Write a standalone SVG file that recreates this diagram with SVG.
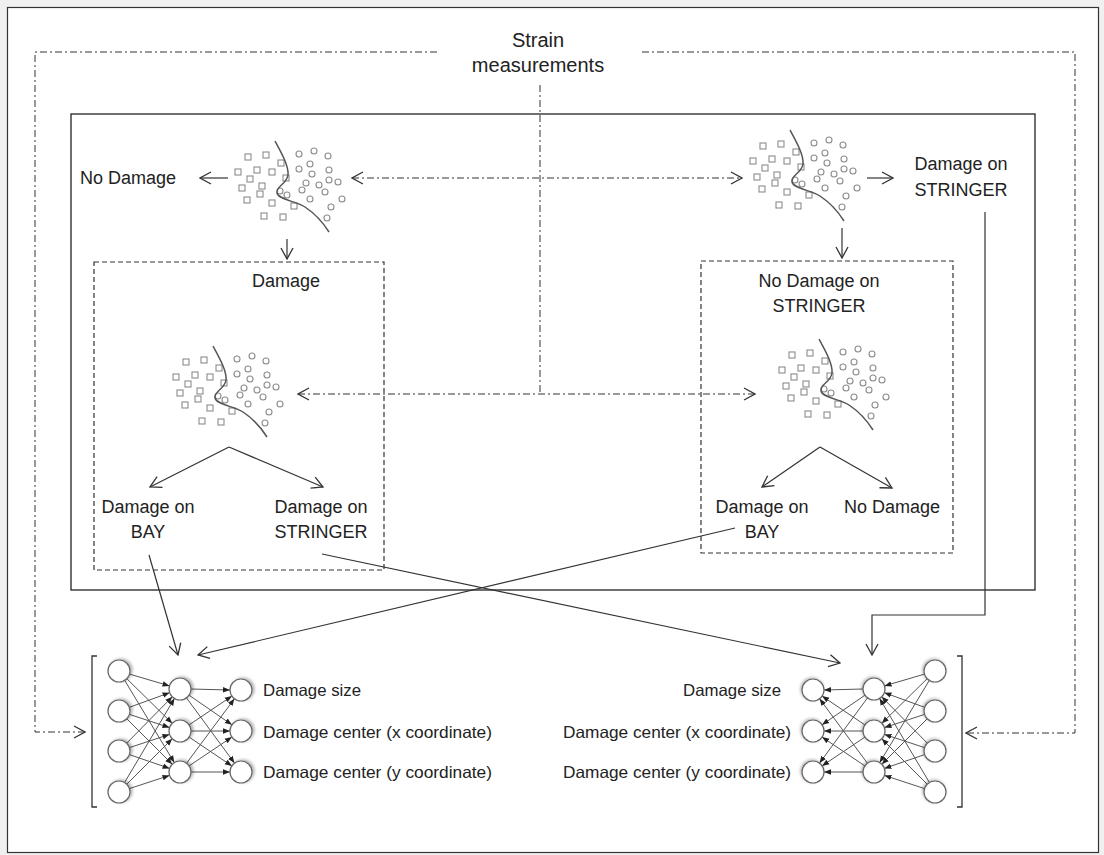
<svg xmlns="http://www.w3.org/2000/svg" xmlns:xlink="http://www.w3.org/1999/xlink" width="1104" height="855" viewBox="0 0 1104 855">
<style>
  text { font-family: "Liberation Sans", Arial, sans-serif; fill: #222; }
  .lbl { font-size: 18px; }
  .small { font-size: 16.5px; }
  .title { font-size: 20px; }
  .conn { stroke: #333; stroke-width: 1.2; fill: none; }
  .dashdot { stroke: #333; stroke-width: 1; fill: none; stroke-dasharray: 7 3 2 3; }
  .dashed { stroke: #333; stroke-width: 1.2; fill: none; stroke-dasharray: 5 3; }
  .sq { fill: none; stroke: #8c8c8c; stroke-width: 1.1; }
  .ci { fill: none; stroke: #8c8c8c; stroke-width: 1.1; }
  .curve { fill: none; stroke: #555; stroke-width: 1.5; }
  .nline { stroke: #555; stroke-width: 1; fill: none; }
  .node { fill: #fff; stroke: #666; stroke-width: 1.2; }
</style>
<defs>
  <marker id="open" markerUnits="userSpaceOnUse" markerWidth="14" markerHeight="14" viewBox="0 0 14 14" refX="13" refY="7" orient="auto">
    <path d="M2,1 L13,7 L2,13" fill="none" stroke="#333" stroke-width="1.3" stroke-dasharray="none"/>
  </marker>
  <marker id="openStart" markerUnits="userSpaceOnUse" markerWidth="14" markerHeight="14" viewBox="0 0 14 14" refX="1" refY="7" orient="auto">
    <path d="M12,1 L1,7 L12,13" fill="none" stroke="#333" stroke-width="1.3" stroke-dasharray="none"/>
  </marker>
  <marker id="small" markerUnits="userSpaceOnUse" markerWidth="8" markerHeight="8" viewBox="0 0 8 8" refX="7" refY="4" orient="auto">
    <path d="M0,1.2 L7,4 L0,6.8 Z" fill="#222"/>
  </marker>
  <filter id="shadow" x="-50%" y="-50%" width="200%" height="200%">
    <feGaussianBlur in="SourceAlpha" stdDeviation="1.5"/>
    <feOffset dx="1.5" dy="-1.5" result="b"/>
    <feComponentTransfer><feFuncA type="linear" slope="0.3"/></feComponentTransfer>
    <feMerge><feMergeNode/><feMergeNode in="SourceGraphic"/></feMerge>
  </filter>
  <g id="scatter">
    <rect class="sq" x="245" y="154" width="6" height="6"/>
    <rect class="sq" x="263" y="152" width="6" height="6"/>
    <rect class="sq" x="278" y="160" width="6" height="6"/>
    <rect class="sq" x="235" y="169" width="6" height="6"/>
    <rect class="sq" x="254" y="167" width="6" height="6"/>
    <rect class="sq" x="269" y="169" width="6" height="6"/>
    <rect class="sq" x="247" y="176" width="6" height="6"/>
    <rect class="sq" x="283" y="175" width="6" height="6"/>
    <rect class="sq" x="239" y="185" width="6" height="6"/>
    <rect class="sq" x="259" y="183" width="6" height="6"/>
    <rect class="sq" x="257" y="191" width="6" height="6"/>
    <rect class="sq" x="244" y="197" width="6" height="6"/>
    <rect class="sq" x="269" y="200" width="6" height="6"/>
    <rect class="sq" x="291" y="203" width="6" height="6"/>
    <rect class="sq" x="261" y="213" width="6" height="6"/>
    <rect class="sq" x="280" y="214" width="6" height="6"/>
    <circle class="ci" cx="299" cy="154" r="3"/>
    <circle class="ci" cx="314" cy="151" r="3"/>
    <circle class="ci" cx="328" cy="156" r="3"/>
    <circle class="ci" cx="310" cy="164" r="3"/>
    <circle class="ci" cx="299" cy="169" r="3"/>
    <circle class="ci" cx="312" cy="174" r="3"/>
    <circle class="ci" cx="329" cy="170" r="3"/>
    <circle class="ci" cx="329" cy="180" r="3"/>
    <circle class="ci" cx="338" cy="182" r="3"/>
    <circle class="ci" cx="306" cy="183" r="3"/>
    <circle class="ci" cx="319" cy="185" r="3"/>
    <circle class="ci" cx="302" cy="190" r="3"/>
    <circle class="ci" cx="325" cy="192" r="3"/>
    <circle class="ci" cx="280" cy="191" r="3"/>
    <circle class="ci" cx="287" cy="195" r="3"/>
    <circle class="ci" cx="310" cy="199" r="3"/>
    <circle class="ci" cx="342" cy="199" r="3"/>
    <circle class="ci" cx="331" cy="207" r="3"/>
    <circle class="ci" cx="327" cy="218" r="3"/>
    <path class="curve" d="M275,141 C281,152 289,166 288,175 C287,184 276,186 277,193 C279,200 296,201 305,207 C317,215 324,224 329,232"/>
  </g>
  <g id="net">
    <path d="M97,656 H92 V807 H97" fill="none" stroke="#333" stroke-width="1.3"/>
    <g marker-end="url(#small)">
      <line class="nline" x1="129.5" y1="674.1" x2="169.5" y2="685.9"/>
      <line class="nline" x1="126.8" y1="678.7" x2="172.2" y2="723.3"/>
      <line class="nline" x1="124.7" y1="680.4" x2="174.3" y2="762.6"/>
      <line class="nline" x1="129.4" y1="707.3" x2="169.6" y2="692.7"/>
      <line class="nline" x1="129.5" y1="714.4" x2="169.5" y2="727.6"/>
      <line class="nline" x1="126.8" y1="718.8" x2="172.2" y2="764.2"/>
      <line class="nline" x1="126.7" y1="743.2" x2="172.3" y2="696.8"/>
      <line class="nline" x1="129.5" y1="747.6" x2="169.5" y2="734.4"/>
      <line class="nline" x1="129.4" y1="754.6" x2="169.6" y2="768.4"/>
      <line class="nline" x1="124.6" y1="782.5" x2="174.4" y2="698.5"/>
      <line class="nline" x1="126.8" y1="784.2" x2="172.2" y2="738.8"/>
      <line class="nline" x1="129.5" y1="788.6" x2="169.5" y2="775.4"/>
      <line class="nline" x1="191" y1="689" x2="230" y2="690"/>
      <line class="nline" x1="189.1" y1="695.2" x2="231.9" y2="724.8"/>
      <line class="nline" x1="186.5" y1="697.9" x2="234.5" y2="763.1"/>
      <line class="nline" x1="189.1" y1="724.9" x2="231.9" y2="696.1"/>
      <line class="nline" x1="191" y1="731" x2="230" y2="731"/>
      <line class="nline" x1="189.1" y1="737.1" x2="231.9" y2="765.9"/>
      <line class="nline" x1="186.6" y1="763.2" x2="234.4" y2="698.8"/>
      <line class="nline" x1="189.1" y1="765.9" x2="231.9" y2="737.1"/>
      <line class="nline" x1="191" y1="772" x2="230" y2="772"/>
    </g>
    <g filter="url(#shadow)">
      <circle class="node" cx="119" cy="671" r="11"/>
      <circle class="node" cx="119" cy="711" r="11"/>
      <circle class="node" cx="119" cy="751" r="11"/>
      <circle class="node" cx="119" cy="792" r="11"/>
      <circle class="node" cx="180" cy="689" r="11"/>
      <circle class="node" cx="180" cy="731" r="11"/>
      <circle class="node" cx="180" cy="772" r="11"/>
      <circle class="node" cx="241" cy="690" r="11"/>
      <circle class="node" cx="241" cy="731" r="11"/>
      <circle class="node" cx="241" cy="772" r="11"/>
    </g>
  </g>
</defs>

<rect x="0" y="0" width="1104" height="855" fill="#f0f0f0"/>
<rect x="7.5" y="7.5" width="1091" height="845" fill="#ffffff" stroke="#333" stroke-width="1.2"/>

<g id="inner-frame">
  <rect x="71" y="114" width="964" height="476" fill="none" stroke="#222" stroke-width="1.3"/>
</g>

<g id="strain-measurements">
  <text class="title" x="538" y="47" text-anchor="middle">Strain</text>
  <text class="title" x="538" y="72" text-anchor="middle">measurements</text>
</g>

<g id="scatter-top-left"><use xlink:href="#scatter"/></g>
<g id="scatter-top-right"><use xlink:href="#scatter" transform="translate(515,-11)"/></g>
<g id="scatter-bottom-left"><use xlink:href="#scatter" transform="translate(-62,205)"/></g>
<g id="scatter-bottom-right"><use xlink:href="#scatter" transform="translate(544,198)"/></g>

<g id="label-no-damage-top"><text class="lbl" x="80" y="184">No Damage</text></g>
<g id="label-damage-on-stringer-top">
  <text class="lbl" x="961" y="170" text-anchor="middle">Damage on</text>
  <text class="lbl" x="961" y="196" text-anchor="middle">STRINGER</text>
</g>

<g id="box-damage">
  <rect class="dashed" x="94" y="262" width="290" height="308"/>
  <text class="lbl" x="286" y="287" text-anchor="middle">Damage</text>
</g>
<g id="box-no-damage-stringer">
  <rect class="dashed" x="701" y="261" width="252" height="292"/>
  <text class="lbl" x="819" y="287" text-anchor="middle">No Damage on</text>
  <text class="lbl" x="819" y="312" text-anchor="middle">STRINGER</text>
</g>

<g id="label-bay-left">
  <text class="lbl" x="148" y="513" text-anchor="middle">Damage on</text>
  <text class="lbl" x="148" y="538" text-anchor="middle">BAY</text>
</g>
<g id="label-stringer-left">
  <text class="lbl" x="321" y="513" text-anchor="middle">Damage on</text>
  <text class="lbl" x="321" y="538" text-anchor="middle">STRINGER</text>
</g>
<g id="label-bay-right">
  <text class="lbl" x="762" y="513" text-anchor="middle">Damage on</text>
  <text class="lbl" x="762" y="538" text-anchor="middle">BAY</text>
</g>
<g id="label-no-damage-right">
  <text class="lbl" x="892" y="513" text-anchor="middle">No Damage</text>
</g>

<g id="net-left">
  <use xlink:href="#net"/>
  <text class="small" x="263" y="696" textLength="98" lengthAdjust="spacingAndGlyphs">Damage size</text>
  <text class="small" x="263" y="738" textLength="229" lengthAdjust="spacingAndGlyphs">Damage center (x coordinate)</text>
  <text class="small" x="263" y="778" textLength="229" lengthAdjust="spacingAndGlyphs">Damage center (y coordinate)</text>
</g>
<g id="net-right">
  <use xlink:href="#net" transform="translate(1054,0) scale(-1,1)"/>
  <text class="small" x="683" y="696" textLength="98" lengthAdjust="spacingAndGlyphs">Damage size</text>
  <text class="small" x="563" y="738" textLength="228" lengthAdjust="spacingAndGlyphs">Damage center (x coordinate)</text>
  <text class="small" x="563" y="778" textLength="228" lengthAdjust="spacingAndGlyphs">Damage center (y coordinate)</text>
</g>

<g id="connectors">
  <polyline class="dashdot" points="437,52 35,52 35,732 85,732" marker-end="url(#open)"/>
  <polyline class="dashdot" points="642,52 1075,52 1075,733 966,733" marker-end="url(#open)"/>
  <line class="dashdot" x1="540" y1="85" x2="540" y2="394"/>
  <line class="dashdot" x1="298" y1="394" x2="755" y2="394" marker-start="url(#openStart)" marker-end="url(#open)"/>
  <line class="dashdot" x1="352" y1="178" x2="742" y2="178" marker-start="url(#openStart)" marker-end="url(#open)"/>
  <line class="conn" x1="228" y1="178" x2="200" y2="178" marker-end="url(#open)"/>
  <line class="conn" x1="867" y1="178" x2="893" y2="178" marker-end="url(#open)"/>
  <line class="conn" x1="287" y1="239" x2="287" y2="259" marker-end="url(#open)"/>
  <line class="conn" x1="842" y1="228" x2="842" y2="258" marker-end="url(#open)"/>
  <line class="conn" x1="229" y1="447" x2="150" y2="487" marker-end="url(#open)"/>
  <line class="conn" x1="229" y1="447" x2="323" y2="487" marker-end="url(#open)"/>
  <line class="conn" x1="820" y1="447" x2="762" y2="487" marker-end="url(#open)"/>
  <line class="conn" x1="820" y1="447" x2="892" y2="488" marker-end="url(#open)"/>
  <line class="conn" x1="149" y1="555" x2="178" y2="655" marker-end="url(#open)"/>
  <line class="conn" x1="735" y1="528" x2="198" y2="655" marker-end="url(#open)"/>
  <line class="conn" x1="322" y1="554" x2="840" y2="663" marker-end="url(#open)"/>
  <polyline class="conn" points="985,212 985,615 872,615 872,655" marker-end="url(#open)"/>
</g>
</svg>
